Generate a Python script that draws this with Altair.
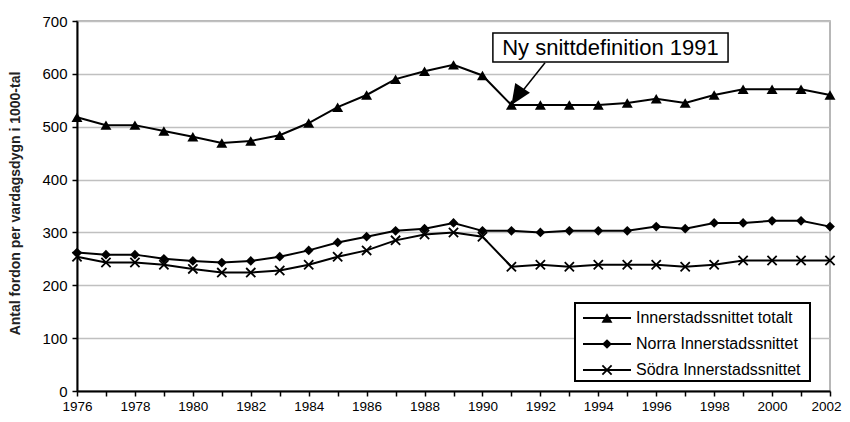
import altair as alt
import pandas as pd

years = list(range(1976, 2003))
totalt = [518, 503, 503, 492, 481, 469, 473, 484, 507, 537, 560, 590, 605, 617, 597,
          541, 541, 541, 541, 545, 553, 545, 560, 571, 571, 571, 560]
norra = [262, 258, 258, 250, 246, 243, 246, 254, 266, 281, 292, 303, 307, 318, 303,
         303, 300, 303, 303, 303, 311, 307, 318, 318, 322, 322, 311]
sodra = [254, 243, 243, 239, 231, 224, 224, 228, 239, 254, 266, 285, 296, 300, 292,
         235, 239, 235, 239, 239, 239, 235, 239, 247, 247, 247, 247]
series_names = ["Innerstadssnittet totalt", "Norra Innerstadssnittet", "Södra Innerstadssnittet"]
y_title = "Antal fordon per vardagsdygn i 1000-tal"
annot_text = "Ny snittdefinition 1991"

FONT = "Liberation Sans"
W, H = 753, 370
XPATH = "M-1,-1L1,1M-1,1L1,-1"
shapes = ["triangle-up", "diamond", XPATH]
sizes = [120, 95, 85]
filled = [True, True, False]

xs = alt.Scale(domain=[1976, 2002], nice=False, zero=False)
ys = alt.Scale(domain=[0, 700], nice=False)

x_axis = alt.Axis(values=years, labelExpr="datum.value % 2 == 0 ? datum.value : ''",
                  format="d", grid=False, domainColor="black", domainWidth=2,
                  tickColor="black", tickWidth=1.5, tickSize=5, labelFontSize=13.5,
                  labelFont=FONT, labelColor="black", labelPadding=3, title=None,
                  labelFlush=False,
                  labelOffset={"condition": {"test": "datum.value == 2002", "value": -4},
                               "value": 0})
y_axis = alt.Axis(values=list(range(0, 701, 100)), grid=True, gridColor="#c0c0c0",
                  gridWidth=1.5, domainColor="black", domainWidth=2, tickColor="black",
                  tickWidth=1.5, tickSize=5, labelFontSize=15, labelFont=FONT,
                  labelColor="black", labelPadding=5, title=y_title, titleFont=FONT,
                  titleFontSize=14, titleFontWeight="bold", titleColor="#222222",
                  titleX=-62, titleY=H / 2 - 3, titleAngle=270, titleAlign="center",
                  titleBaseline="middle")


def X(f):
    return alt.X(f, type="quantitative", scale=xs, axis=x_axis)


def Y(f):
    return alt.Y(f, type="quantitative", scale=ys, axis=y_axis)


layers = []
for i, (name, vals) in enumerate(zip(series_names, [totalt, norra, sodra])):
    df = pd.DataFrame({"year": years, "value": vals, "series": name})
    base = alt.Chart(df)
    line = base.mark_line(color="black", strokeWidth=2).encode(x=X("year"), y=Y("value"))
    pt = base.mark_point(shape=shapes[i], size=sizes[i], filled=filled[i],
                         color="black", opacity=1, strokeWidth=1.8).encode(
        x=X("year"), y=Y("value"))
    layers += [line, pt]

# Annotation (data coordinates)
box_x, box_x2, box_y, box_y2 = 1990.36, 1998.48, 677.3, 622.4
arrow_from = (1992.16, 621)
arrow_to = (1991, 541)
ann = pd.DataFrame({"x": [box_x], "x2": [box_x2], "y": [box_y], "y2": [box_y2],
                    "tx": [(box_x + box_x2) / 2], "ty": [(box_y + box_y2) / 2],
                    "ax": [arrow_from[0]], "ay": [arrow_from[1]],
                    "bx": [arrow_to[0]], "by": [arrow_to[1]], "t": [annot_text]})
abase = alt.Chart(ann)
layers.append(abase.mark_rule(color="black", strokeWidth=1.5).encode(
    x=X("ax"), x2="bx:Q", y=Y("ay"), y2="by:Q"))
layers.append(abase.mark_point(shape="M0,0L0.9,2.1L-0.9,2.1Z", size=380, filled=True,
                               color="black", opacity=1, angle=213).encode(
    x=X("bx"), y=Y("by")))
layers.append(abase.mark_rect(fill="white", stroke="black", strokeWidth=1.5).encode(
    x=X("x"), x2="x2:Q", y=Y("y"), y2="y2:Q"))
layers.append(abase.mark_text(font=FONT, fontSize=22, color="black").encode(
    x=X("tx"), y=Y("ty"), text="t:N"))

# Manual legend (pixel positions inside plot area)
leg_df = pd.DataFrame({"a": [0]})
lb = alt.Chart(leg_df)
layers.append(lb.mark_rect(fill="white", stroke="black", strokeWidth=2).encode(
    x=alt.value(498), x2=alt.value(733), y=alt.value(282), y2=alt.value(360)))
for i, name in enumerate(series_names):
    yy = 297 + 26 * i
    layers.append(lb.mark_rule(color="black", strokeWidth=2).encode(
        x=alt.value(506), x2=alt.value(554), y=alt.value(yy)))
    layers.append(lb.mark_point(shape=shapes[i], size=sizes[i], filled=filled[i],
                                color="black", opacity=1, strokeWidth=1.8).encode(
        x=alt.value(530), y=alt.value(yy)))
    layers.append(lb.mark_text(font=FONT, fontSize=16, color="black", align="left",
                               baseline="middle").encode(
        x=alt.value(559), y=alt.value(yy), text=alt.value(name)))

chart = alt.layer(*layers).properties(
    width=W, height=H,
    autosize=alt.AutoSizeParams(type="none"),
    padding={"left": 69, "top": 13, "right": 12, "bottom": 23},
    background="white",
).configure_view(stroke="#a0a0a0", strokeWidth=1.5)

chart.save("out.html", embed_options={"renderer": "svg", "actions": False})
